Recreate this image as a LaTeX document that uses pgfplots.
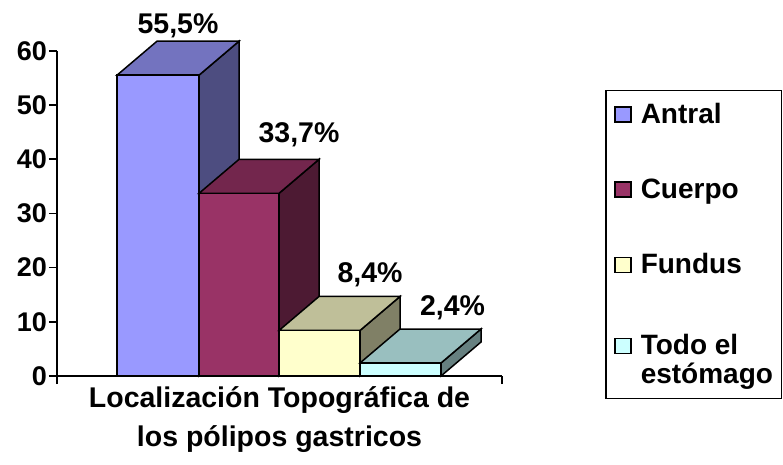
\documentclass[border=0pt]{standalone}
\usepackage{pgfplots}
\pgfplotsset{compat=1.18}
\usepackage{fontspec}
\setmainfont{Liberation Sans}
\definecolor{antF}{HTML}{9999FF}\definecolor{antT}{HTML}{7373BF}\definecolor{antS}{HTML}{4D4D80}
\definecolor{cueF}{HTML}{993366}\definecolor{cueT}{HTML}{73264D}\definecolor{cueS}{HTML}{4D1A33}
\definecolor{funF}{HTML}{FFFFCC}\definecolor{funT}{HTML}{BFBF99}\definecolor{funS}{HTML}{808066}
\definecolor{todF}{HTML}{CCFFFF}\definecolor{todT}{HTML}{99BFBF}\definecolor{todS}{HTML}{668080}
\begin{document}
\begin{tikzpicture}
\begin{axis}[
  x=1pt, y=5.42pt,
  xmin=0, xmax=445, ymin=0, ymax=60,
  axis lines=left, axis line style={-, line width=1.5pt},
  clip=false,
  xtick={0,445}, xticklabels={},
  ytick={0,10,20,30,40,50,60},
  tick align=outside, major tick length=8pt,
  tick style={line width=1.5pt, black},
  /pgf/number format/assume math mode=true,
  yticklabel style={font=\bfseries\fontsize{27}{27}\selectfont, inner sep=2pt},
  xlabel={Localización Topográfica de\\los pólipos gastricos},
  xlabel style={align=center, font=\bfseries\fontsize{28.5}{39}\selectfont,
    at={(axis description cs:0.5,-0.031)}, anchor=north, inner sep=0pt},
  legend cell align=left,
  legend image code/.code={\draw[#1, line width=1.5pt] (0pt,1pt) rectangle (16pt,16pt);},
  legend style={at={(axis description cs:1.2315,0.8795)}, anchor=north west,
    draw=black, line width=1.5pt, inner xsep=8.5pt, inner ysep=6.5pt,
    row sep=49pt, column sep=0pt,
    cells={anchor=base west},
    nodes={inner sep=0pt, text depth=, font=\bfseries\fontsize{28}{28}\selectfont},
    /tikz/every odd column/.append style={column sep=9pt}},
]
% Bar 1: Antral 55.5
\addplot[forget plot, fill=antS, draw=black, line width=1.5pt] coordinates {(142,0) (182,6.27) (182,61.77) (142,55.5)} -- cycle;
\addplot[forget plot, fill=antT, draw=black, line width=1.5pt] coordinates {(60,55.5) (142,55.5) (182,61.77) (100,61.77)} -- cycle;
\addplot[fill=antF, draw=black, line width=1.5pt] coordinates {(60,0) (142,0) (142,55.5) (60,55.5)} -- cycle;
\addlegendentry{\rule[-6pt]{0pt}{32pt}Antral}
% Bar 2: Cuerpo 33.7
\addplot[forget plot, fill=cueS, draw=black, line width=1.5pt] coordinates {(222,0) (262,6.27) (262,39.97) (222,33.7)} -- cycle;
\addplot[forget plot, fill=cueT, draw=black, line width=1.5pt] coordinates {(142,33.7) (222,33.7) (262,39.97) (182,39.97)} -- cycle;
\addplot[fill=cueF, draw=black, line width=1.5pt] coordinates {(142,0) (222,0) (222,33.7) (142,33.7)} -- cycle;
\addlegendentry{\rule[-6pt]{0pt}{26pt}Cuerpo}
% Bar 3: Fundus 8.4
\addplot[forget plot, fill=funS, draw=black, line width=1.5pt] coordinates {(303,0) (343,6.27) (343,14.67) (303,8.4)} -- cycle;
\addplot[forget plot, fill=funT, draw=black, line width=1.5pt] coordinates {(222,8.4) (303,8.4) (343,14.67) (262,14.67)} -- cycle;
\addplot[fill=funF, draw=black, line width=1.5pt] coordinates {(222,0) (303,0) (303,8.4) (222,8.4)} -- cycle;
\addlegendentry{\rule[-6pt]{0pt}{26pt}Fundus}
% Bar 4: Todo el estomago 2.4
\addplot[forget plot, fill=todS, draw=black, line width=1.5pt] coordinates {(384,0) (424,6.27) (424,8.67) (384,2.4)} -- cycle;
\addplot[forget plot, fill=todT, draw=black, line width=1.5pt] coordinates {(303,2.4) (384,2.4) (424,8.67) (343,8.67)} -- cycle;
\addplot[fill=todF, draw=black, line width=1.5pt] coordinates {(303,0) (384,0) (384,2.4) (303,2.4)} -- cycle;
\addlegendentry{\begin{tabular}[t]{@{}l@{}}\rule{0pt}{26pt}Todo el\\ estómago\end{tabular}}
% value labels
\addplot[forget plot, only marks, mark=none, point meta=explicit symbolic,
  nodes near coords, nodes near coords style={anchor=base, inner sep=0pt, black,
  font=\bfseries\fontsize{28.5}{28.5}\selectfont}]
  coordinates {(121,63.28) [55,5\%] (242,42.99) [33,7\%] (313,17.16) [8,4\%] (395.5,11.25) [2,4\%]};
\end{axis}
\pgfresetboundingbox
\useasboundingbox (-57pt,-88pt) rectangle (726pt,376pt);
\end{tikzpicture}
\end{document}
